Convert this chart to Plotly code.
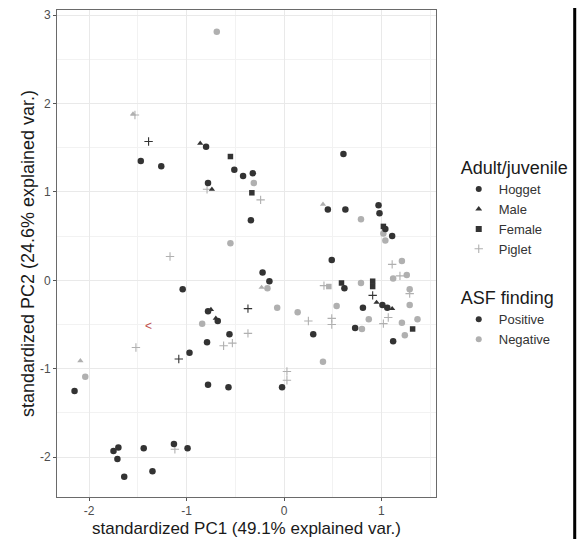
import plotly.graph_objects as go

# ---- data ----
pc1 = [-0.69, -1.53, -1.55, -1.39, -1.47, -1.26, -0.86, -0.80, -0.55, -0.51,
       -0.42, -0.32, -0.31, -0.33, -0.24, -0.78, -0.74, -0.79, -0.34, -0.55,
       -1.17, -1.04, 0.61, 0.40, 0.45, 0.63, 0.79, 0.97, 0.98, 1.02,
       1.04, 1.11, 1.02, 1.04, 0.49, 1.21, 1.11, -0.22, -0.15, -0.23,
       -0.17, -0.07, 0.14, 0.25, 0.30, 0.40, 0.03, 0.03, -0.02, 0.41,
       0.46, 0.59, 0.62, 0.79, 0.91, 0.91, 0.91, 0.95, 1.01, 1.06,
       1.11, 0.81, 0.54, 0.49, 0.49, 0.73, 0.80, 0.87, 1.02, 1.07,
       1.12, 1.21, 1.24, 1.32, 1.37, 1.29, 1.29, 1.29, 1.26, 1.19,
       1.12, -0.78, -0.75, -0.84, -0.70, -0.68, -0.56, -0.62, -0.53, -0.79,
       -0.97, -1.08, -0.37, -0.37, -1.52, -2.09, -2.04, -2.15, -0.78, -0.57,
       -1.75, -1.70, -1.71, -1.64, -1.44, -1.35, -1.13, -1.12, -0.99]
pc2 = [2.81, 1.87, 1.88, 1.57, 1.35, 1.29, 1.55, 1.51, 1.40, 1.25,
       1.18, 1.21, 1.10, 0.99, 0.91, 1.10, 1.03, 1.03, 0.68, 0.42,
       0.27, -0.10, 1.43, 0.86, 0.80, 0.80, 0.69, 0.85, 0.76, 0.61,
       0.58, 0.50, 0.53, 0.45, 0.23, 0.22, 0.18, 0.09, -0.01, -0.08,
       -0.09, -0.31, -0.36, -0.46, -0.61, -0.92, -1.03, -1.13, -1.21, -0.06,
       -0.07, -0.03, -0.09, -0.03, -0.01, -0.07, -0.17, -0.25, -0.28, -0.31,
       -0.32, -0.31, -0.29, -0.43, -0.50, -0.54, -0.55, -0.44, -0.49, -0.42,
       -0.69, -0.48, -0.62, -0.55, -0.44, -0.28, -0.15, -0.10, 0.06, 0.05,
       0.02, -0.35, -0.33, -0.49, -0.43, -0.46, -0.61, -0.74, -0.71, -0.70,
       -0.82, -0.89, -0.32, -0.60, -0.76, -0.91, -1.09, -1.25, -1.18, -1.21,
       -1.93, -1.89, -2.02, -2.22, -1.90, -2.16, -1.85, -1.91, -1.90]
age_class = ["Hogget", "Piglet", "Male", "Piglet", "Hogget", "Hogget", "Male", "Hogget", "Female", "Hogget",
             "Hogget", "Hogget", "Hogget", "Female", "Piglet", "Hogget", "Male", "Piglet", "Hogget", "Hogget",
             "Piglet", "Hogget", "Hogget", "Male", "Hogget", "Hogget", "Hogget", "Hogget", "Hogget", "Female",
             "Hogget", "Hogget", "Hogget", "Hogget", "Hogget", "Hogget", "Piglet", "Hogget", "Hogget", "Male",
             "Hogget", "Hogget", "Hogget", "Piglet", "Hogget", "Hogget", "Piglet", "Piglet", "Hogget", "Piglet",
             "Female", "Female", "Hogget", "Hogget", "Female", "Female", "Piglet", "Male", "Hogget", "Hogget",
             "Male", "Hogget", "Hogget", "Piglet", "Piglet", "Hogget", "Hogget", "Hogget", "Piglet", "Piglet",
             "Hogget", "Hogget", "Hogget", "Female", "Hogget", "Hogget", "Piglet", "Hogget", "Hogget", "Piglet",
             "Hogget", "Hogget", "Male", "Hogget", "Male", "Hogget", "Hogget", "Piglet", "Piglet", "Hogget",
             "Hogget", "Piglet", "Piglet", "Piglet", "Piglet", "Male", "Hogget", "Hogget", "Hogget", "Hogget",
             "Hogget", "Hogget", "Hogget", "Hogget", "Hogget", "Hogget", "Hogget", "Piglet", "Hogget"]
asf_status = ["Negative", "Negative", "Negative", "Positive", "Positive", "Positive", "Positive", "Positive", "Positive", "Positive",
              "Positive", "Positive", "Negative", "Positive", "Negative", "Positive", "Positive", "Negative", "Positive", "Negative",
              "Negative", "Positive", "Positive", "Negative", "Positive", "Positive", "Negative", "Positive", "Positive", "Positive",
              "Positive", "Positive", "Negative", "Negative", "Positive", "Negative", "Negative", "Positive", "Positive", "Negative",
              "Negative", "Negative", "Negative", "Negative", "Positive", "Negative", "Negative", "Negative", "Positive", "Negative",
              "Negative", "Positive", "Positive", "Negative", "Positive", "Positive", "Positive", "Positive", "Positive", "Positive",
              "Positive", "Positive", "Negative", "Negative", "Negative", "Positive", "Negative", "Negative", "Negative", "Negative",
              "Positive", "Negative", "Negative", "Positive", "Negative", "Negative", "Negative", "Negative", "Negative", "Negative",
              "Negative", "Positive", "Positive", "Negative", "Positive", "Positive", "Positive", "Negative", "Negative", "Positive",
              "Positive", "Positive", "Positive", "Negative", "Negative", "Negative", "Negative", "Positive", "Positive", "Positive",
              "Positive", "Positive", "Positive", "Positive", "Positive", "Positive", "Positive", "Negative", "Positive"]

age_levels = ["Hogget", "Male", "Female", "Piglet"]
asf_levels = ["Positive", "Negative"]
x_ticks = [-2, -1, 0, 1]
y_ticks = [-2, -1, 0, 1, 2, 3]
x_title = "standardized PC1 (49.1% explained var.)"
y_title = "standardized PC2 (24.6% explained var.)"
red_mark = {"x": -1.39, "y": -0.52, "text": "<"}

# ---- styles ----
symbols = {"Hogget": "circle", "Male": "triangle-up", "Female": "square", "Piglet": "cross-thin"}
sizes = {"Hogget": 6.5, "Male": 5.5, "Female": 5.5, "Piglet": 6}
colors = {"Positive": "#333333", "Negative": "#b0b0b0"}
FONT = "Liberation Sans, Arial, sans-serif"


def marker_for(age, status, size=None):
    c = colors[status]
    s = size if size is not None else sizes[age]
    if symbols[age] == "cross-thin":
        return dict(symbol="cross-thin", size=s, color=c, line=dict(width=1.1, color=c))
    return dict(symbol=symbols[age], size=s, color=c, line=dict(width=0))


fig = go.Figure()

for status in ["Negative", "Positive"]:
    for age in age_levels:
        xs = [x for x, a, s in zip(pc1, age_class, asf_status) if a == age and s == status]
        ys = [y for y, a, s in zip(pc2, age_class, asf_status) if a == age and s == status]
        if not xs:
            continue
        fig.add_trace(go.Scatter(x=xs, y=ys, mode="markers", showlegend=False,
                                 marker=marker_for(age, status), hoverinfo="x+y"))

for age in age_levels:
    st = "Negative" if age == "Piglet" else "Positive"
    fig.add_trace(go.Scatter(x=[None], y=[None], mode="markers", name=age,
                             marker=marker_for(age, st, size=6), legend="legend"))
for status in asf_levels:
    fig.add_trace(go.Scatter(x=[None], y=[None], mode="markers", name=status,
                             marker=dict(symbol="circle", size=6, color=colors[status]),
                             legend="legend2"))

fig.add_annotation(x=red_mark["x"], y=red_mark["y"], text=red_mark["text"], showarrow=False,
                   font=dict(color="#c0504d", size=12, family=FONT))

axis_common = dict(
    showgrid=True, gridcolor="#e9e9e9", gridwidth=1.1, automargin=False,
    zeroline=False, showline=True, linecolor="#6a6a6a", linewidth=1, mirror=True,
    ticks="outside", ticklen=3, tickcolor="#555555", tickwidth=1,
    tickfont=dict(size=12, color="#4d4d4d", family=FONT),
    minor=dict(showgrid=True, gridcolor="#f2f2f2", gridwidth=0.6, dtick=0.5, ticks=""),
)

# the page body has an 8px default margin, so the figure is made 8px smaller
fig.update_layout(
    width=580, height=531,
    margin=dict(l=49, r=152, t=2, b=42, autoexpand=False),
    paper_bgcolor="white", plot_bgcolor="white",
    font=dict(family=FONT, color="black"),
    xaxis=dict(range=[-2.33, 1.56], tickvals=x_ticks, ticktext=[str(v) for v in x_ticks],
               title=dict(text=x_title, font=dict(size=17, color="#1a1a1a"), standoff=4),
               **axis_common),
    yaxis=dict(range=[-2.45, 3.057], tickvals=y_ticks, ticktext=[str(v) for v in y_ticks],
               title=dict(text=y_title, font=dict(size=18, color="#1a1a1a"), standoff=0),
               **axis_common),
    legend=dict(x=1.06, y=0.711, xanchor="left", yanchor="top",
                title=dict(text="Adult/juvenile", font=dict(size=18, color="#1a1a1a")),
                font=dict(size=13, color="#333333"), bgcolor="rgba(0,0,0,0)",
                itemsizing="trace", tracegroupgap=0),
    legend2=dict(x=1.06, y=0.4435, xanchor="left", yanchor="top",
                 title=dict(text="ASF finding", font=dict(size=18, color="#1a1a1a")),
                 font=dict(size=13, color="#333333"), bgcolor="rgba(0,0,0,0)",
                 itemsizing="trace"),
    shapes=[dict(type="rect", xref="paper", yref="paper", layer="above",
                 x0=1.362, x1=1.370, y0=-0.1, y1=1.03,
                 fillcolor="black", line=dict(width=0))],
)

fig.write_html("out.html")
